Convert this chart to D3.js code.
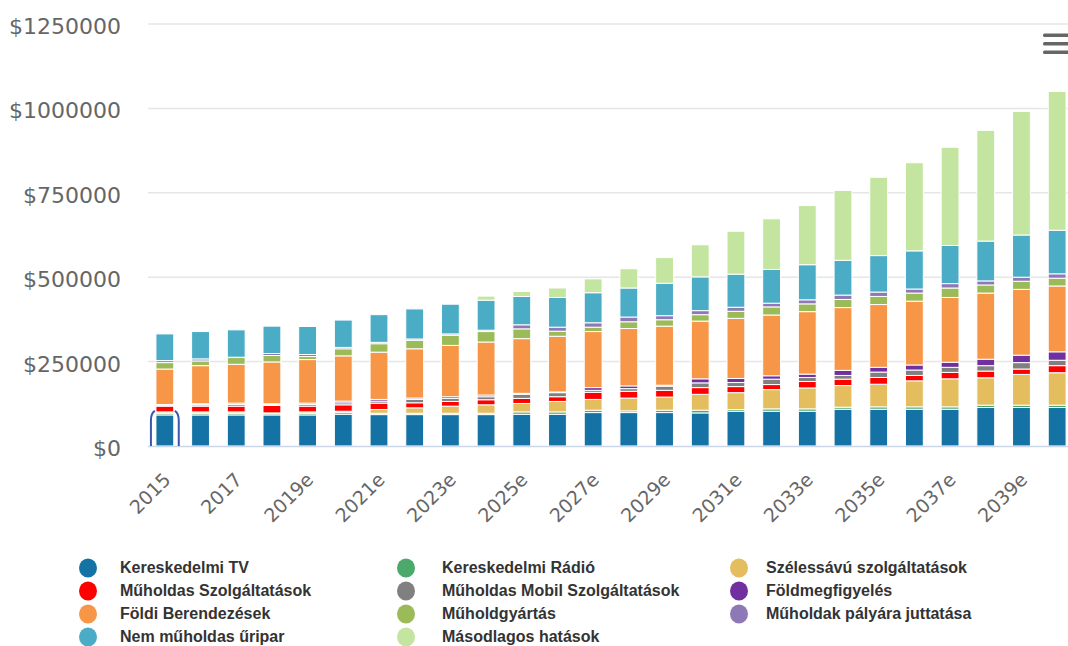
<!DOCTYPE html>
<html>
<head>
<meta charset="utf-8">
<script src="https://d3js.org/d3.v7.min.js"></script>
<style>
    body {
        margin: 0;
        background: #fff;
    }

    svg {
        display: block;
    }

    .axis text {
        fill: #666;
        font-family: "DejaVu Sans", sans-serif;
    }

    .legend text {
        fill: #333;
        font-family: "Liberation Sans", Arial, sans-serif;
        font-weight: bold;
        font-size: 16px;
    }
</style>
</head>
<body>
<svg id="chart"></svg>
<script>
    // values in $ thousands
    var years = ["2015", "2016", "2017", "2018", "2019e", "2020e", "2021e", "2022e", "2023e",
        "2024e", "2025e", "2026e", "2027e", "2028e", "2029e", "2030e", "2031e", "2032e",
        "2033e", "2034e", "2035e", "2036e", "2037e", "2038e", "2039e", "2040e"];

    var kereskedelmiTV = [92, 92, 92, 92, 92, 94, 93, 93, 93, 93, 94, 94, 99, 99, 99, 98, 103, 103, 103, 109, 109, 109, 109, 114, 114, 114];
    var kereskedelmiRadio = [5, 5, 5, 4, 5, 5, 4, 4, 4, 4, 7, 7, 7, 5, 7, 8, 5, 7, 7, 6, 7, 7, 7, 7, 7, 7];
    var szelessavu = [4, 4, 4, 2, 4, 4, 11, 16, 21, 25, 25, 31, 32, 38, 39, 47, 50, 57, 62, 64, 67, 77, 83, 81, 91, 96];
    var muholdasSzolg = [17, 17, 17, 22, 17, 19, 19, 15, 14, 15, 15, 14, 21, 20, 20, 20, 18, 15, 19, 19, 20, 16, 19, 20, 16, 21];
    var mobilSzolg = [3, 4, 5, 3, 5, 6, 6, 10, 9, 9, 12, 12, 6, 8, 12, 14, 12, 16, 12, 11, 16, 16, 15, 16, 19, 16];
    var foldmegfigyeles = [2, 3, 4, 2, 4, 5, 5, 4, 5, 5, 3, 2, 8, 8, 3, 12, 12, 10, 10, 15, 14, 15, 15, 19, 22, 25];
    var foldiBerendezesek = [105, 113, 115, 124, 129, 134, 140, 146, 152, 157, 162, 165, 166, 170, 175, 171, 178, 180, 185, 186, 186, 189, 192, 196, 195, 195];
    var muholdgyartas = [19, 14, 20, 19, 9, 21, 25, 25, 30, 31, 29, 15, 13, 20, 19, 19, 21, 24, 23, 24, 24, 24, 28, 24, 24, 23];
    var palyaraJuttatas = [6, 6, 1, 6, 6, 4, 4, 4, 4, 4, 12, 12, 13, 14, 12, 12, 12, 11, 12, 13, 13, 12, 13, 12, 12, 13];
    var nemMuholdas = [79, 81, 81, 81, 83, 81, 82, 89, 88, 89, 84, 88, 89, 86, 96, 100, 98, 100, 104, 103, 108, 113, 113, 118, 125, 129];
    var masodlagos = [0, 0, 0, 0, 0, 0, 0, 0, 0, 12, 15, 28, 41, 57, 76, 95, 127, 150, 175, 207, 232, 261, 291, 328, 366, 411];

    var yTicks = [0, 250, 500, 750, 1000, 1250];

    // stacking order, bottom to top
    var series = [
        { key: "tv", name: "Kereskedelmi TV", color: "#1572a5", values: kereskedelmiTV },
        { key: "radio", name: "Kereskedelmi Rádió", color: "#4aa96b", values: kereskedelmiRadio },
        { key: "bb", name: "Szélessávú szolgáltatások", color: "#e4bd5f", values: szelessavu },
        { key: "sat", name: "Műholdas Szolgáltatások", color: "#ff0000", values: muholdasSzolg },
        { key: "mob", name: "Műholdas Mobil Szolgáltatások", color: "#808080", values: mobilSzolg },
        { key: "eo", name: "Földmegfigyelés", color: "#7030a0", values: foldmegfigyeles },
        { key: "ground", name: "Földi Berendezések", color: "#f79646", values: foldiBerendezesek },
        { key: "manuf", name: "Műholdgyártás", color: "#9bbb59", values: muholdgyartas },
        { key: "launch", name: "Műholdak pályára juttatása", color: "#8f78b6", values: palyaraJuttatas },
        { key: "nonsat", name: "Nem műholdas űripar", color: "#4bacc6", values: nemMuholdas },
        { key: "sec", name: "Másodlagos hatások", color: "#c4e5a0", values: masodlagos }
    ];

    // legend is laid out column by column
    var legendOrder = ["tv", "sat", "ground", "nonsat", "radio", "mob", "manuf", "sec", "bb", "eo", "launch"];

    var width = 1068;
    var height = 646;

    var svg = d3.select("#chart").attr("width", width).attr("height", height);

    var table = years.map(function (y, i) {
        var row = { year: y };
        series.forEach(function (s) { row[s.key] = s.values[i]; });
        return row;
    });

    var x = d3.scaleBand()
        .domain(years)
        .range([147, 1075])
        .paddingInner(0.5)
        .paddingOuter(0.25);

    var y = d3.scaleLinear()
        .domain([0, 1250])
        .range([446, 24]);

    // grid
    svg.append("g")
        .selectAll("line")
        .data(yTicks.slice(1))
        .enter()
        .append("line")
        .attr("x1", 148)
        .attr("x2", width)
        .attr("y1", function (d) { return y(d); })
        .attr("y2", function (d) { return y(d); })
        .attr("stroke", "#e6e6e6")
        .attr("stroke-width", 1.5);

    // y labels
    svg.append("g").attr("class", "axis")
        .selectAll("text")
        .data(yTicks)
        .enter()
        .append("text")
        .attr("x", 121)
        .attr("y", function (d) { return y(d) + 10; })
        .attr("text-anchor", "end")
        .style("font-size", "22px")
        .text(function (d) { return "$" + d * 1000; });

    var stack = d3.stack().keys(series.map(function (s) { return s.key; }));
    var layers = stack(table);

    svg.append("g")
        .selectAll("g")
        .data(layers)
        .enter()
        .append("g")
        .attr("fill", function (d, i) { return series[i].color; })
        .selectAll("rect")
        .data(function (d) { return d; })
        .enter()
        .append("rect")
        .attr("x", function (d) { return x(d.data.year); })
        .attr("width", x.bandwidth())
        .attr("y", function (d) { return y(d[1]); })
        .attr("height", function (d) { return Math.max(0, y(d[0]) - y(d[1])); })
        .attr("stroke", "#fff")
        .attr("stroke-width", 1);

    // baseline
    svg.append("line")
        .attr("x1", 148)
        .attr("x2", width)
        .attr("y1", 446.5)
        .attr("y2", 446.5)
        .attr("stroke", "#ccd6eb")
        .attr("stroke-width", 1.5);

    // hovered point outline on 2015 TV
    var bx = x(years[0]);
    var bw = x.bandwidth();
    var top0 = y(kereskedelmiTV[0]) - 4;
    [[bx - 1, bx - 5], [bx + bw + 1, bx + bw + 5]].forEach(function (p) {
        svg.append("path")
            .attr("d", "M" + p[0] + "," + top0 + " Q" + p[1] + "," + (top0 + 2) + " " + p[1] + "," + (top0 + 10) + " V446")
            .attr("fill", "none")
            .attr("stroke", "#3a56b0")
            .attr("stroke-width", 2);
    });

    // x labels
    var xAxis = d3.axisBottom(x)
        .tickValues(years.filter(function (d, i) { return i % 2 == 0; }))
        .tickSize(0);

    var gx = svg.append("g").attr("class", "axis")
        .attr("transform", "translate(0,446)")
        .call(xAxis);
    gx.select(".domain").remove();
    gx.selectAll("text")
        .attr("x", 0)
        .attr("y", 0)
        .attr("dy", 0)
        .attr("text-anchor", "end")
        .attr("transform", "translate(7,35) rotate(-45)")
        .style("font-size", "19px");

    // menu icon
    svg.append("g")
        .selectAll("rect")
        .data([33.5, 42, 50.5])
        .enter()
        .append("rect")
        .attr("x", 1043)
        .attr("y", function (d) { return d; })
        .attr("width", 32)
        .attr("height", 3.5)
        .attr("rx", 1.5)
        .attr("fill", "#666");

    // legend
    var colX = [88, 406, 739];
    var textX = [32, 36, 27];
    var rowY = [568, 591, 614, 637];
    var legend = svg.append("g").attr("class", "legend")
        .selectAll("g")
        .data(legendOrder.map(function (k) { return series.find(function (s) { return s.key == k; }); }))
        .enter()
        .append("g")
        .attr("transform", function (d, i) {
            return "translate(" + colX[Math.floor(i / 4)] + "," + rowY[i % 4] + ")";
        });

    legend.append("ellipse")
        .attr("rx", 9)
        .attr("ry", 9.5)
        .attr("fill", function (d) { return d.color; });

    legend.append("text")
        .attr("x", function (d, i) { return textX[Math.floor(i / 4)]; })
        .attr("y", 5)
        .text(function (d) { return d.name; });
</script>
</body>
</html>
